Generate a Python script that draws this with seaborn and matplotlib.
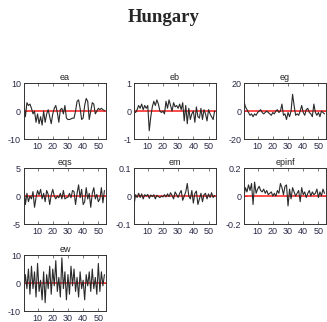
import numpy as np
import pandas as pd
import matplotlib
matplotlib.use("Agg")
import matplotlib.pyplot as plt
import seaborn as sns

sns.set_style("ticks")
plt.rcParams['font.family'] = ['Liberation Sans', 'DejaVu Sans']

title = "Hungary"
names = ["ea", "eb", "eg", "eqs", "em", "epinf", "ew"]
limits = [10, 1, 20, 5, 0.1, 0.2, 10]
xticks = [10, 20, 30, 40, 50]

ea = [2.5, -2, 3, 2, 2.5, 1, -1, 0, -4, -1, -4.5, -2, -5, 0, -4, -1, 0.5, -2, -4.5, -1,
      1, 2, -0.5, -4, 0.5, 1, -1, 2, -2.5, -3, -3, -2.8, -2.5, -2.5, 0, 3.5, 4, 1, -3, -2.5,
      2, 4.5, 3.5, -3, 0, 3, 2.5, -1, 0, 1, 0.5, 1, 0.5, 0.2]
eb = [0, -0.05, 0.05, 0.2, 0.1, 0.25, 0.05, 0.2, 0.1, 0.2, -0.7, -0.2, 0.15, 0.35, 0.2, 0.4,
      0.25, 0.0, -0.05, 0.0, -0.1, 0.35, 0.1, 0.4, 0.2, 0.0, 0.3, 0.15, 0.2, 0.1, 0.25, 0.05,
      0.3, -0.35, 0.2, -0.45, 0.1, -0.3, -0.1, 0.0, -0.4, 0.15, -0.2, -0.25, 0.1, -0.3, 0.05,
      -0.1, -0.35, 0.05, -0.1, -0.2, -0.3, 0.0]
eg = [7, 3, 1, -1, -3, -2, -4, -2, -3, -1, 0, 1, -1, -2, -1, 0, -1, -2, -3, -1, -2, 0, 1, -1,
      0, 5, -3, -2, -6, -1, -4, 0, 12, 4, -3, -2, -3, 0, 4, -1, -3, 1, 2, -1, -2, -4, 5, -1,
      -3, -1, -4, 0, -1, -2]
eqs = [1.6, -1.5, 0.5, -1, 0, -0.5, 0.8, -2, -0.3, 1, 0.2, 1.2, -0.5, 0.5, -1, 1, 0.3, -1.5,
       0.2, 1.2, 0, -0.5, 0, -0.3, 0.5, -0.5, 1, -0.5, -0.3, -0.2, 0.5, -0.3, 1, 0.8, -1.5, 0.5,
       2, -0.3, 1.2, -1.5, -1, 1.5, -0.5, 0.5, -2, 0.5, 1.5, -0.5, 0.3, -1, -0.5, 1.5, -1.2, 1]
em = [-0.03, 0.005, -0.005, 0.01, -0.005, 0.008, -0.01, 0.005, 0.0, 0.006, -0.008, 0.004,
      -0.002, 0.005, -0.01, 0.003, -0.002, -0.005, 0.0, -0.003, 0.005, -0.003, 0.008, -0.002,
      0.012, 0.002, -0.01, 0.015, 0.005, -0.005, 0.01, 0.02, -0.015, 0.0, 0.015, 0.045, 0.0,
      -0.01, 0.02, -0.025, 0.01, 0.018, -0.03, -0.01, 0.01, -0.02, 0.005, 0.01, -0.01, 0.008,
      -0.005, 0.012, -0.005, 0.002]
epinf = [0.0, 0.06, 0.03, 0.08, 0.04, 0.09, -0.06, 0.1, 0.02, 0.05, 0.07, 0.04, 0.03, 0.05,
         0.02, 0.04, 0.01, 0.02, 0.03, 0.0, 0.02, 0.0, 0.04, 0.02, 0.09, 0.06, 0.01, 0.07, 0.08,
         -0.07, 0.05, -0.02, 0.06, 0.03, 0.0, 0.02, 0.04, -0.04, 0.06, 0.01, 0.03, -0.01, 0.02,
         0.04, 0.0, 0.03, 0.01, 0.02, 0.05, -0.01, 0.03, 0.0, 0.05, 0.02]
ew = [-3, 3, -2, 5, -4, 6, -2, 4, -5, 7, -3, 1, -6, 4, -7, 3, -2, 6, -4, 5, -1, 8, -3, 2, -5,
      9, -2, 4, -6, 3, -4, 6, -1, 5, -3, 2, -5, 4, -2, 1, -6, 3, -1, 4, -3, 5, -2, 2, -4, 7,
      -3, 4, -1, 3]
series = [ea, eb, eg, eqs, em, epinf, ew]

fig = plt.figure(figsize=(3.27, 3.22), dpi=100)
fig.text(0.5, 0.945, title, ha='center', va='center', fontsize=13.5,
         fontweight='bold', family=['Liberation Serif'])

lefts = [0.073, 0.41, 0.746]
bottoms = [0.568, 0.304, 0.034]
w, h = 0.251, 0.174
tick_color = '#2a2a48'

for i, (name, lim, vals) in enumerate(zip(names, limits, series)):
    r, c = divmod(i, 3)
    ax = fig.add_axes([lefts[c], bottoms[r], w, h])
    df = pd.DataFrame({"t": np.arange(1, len(vals) + 1), "v": vals})
    ax.axhline(0, color='#ff1a1a', lw=1.1, zorder=1)
    sns.lineplot(data=df, x="t", y="v", ax=ax, color='#2a2a2a', lw=0.8, zorder=2)
    ax.set_xlim(1, 55)
    ax.set_ylim(-lim, lim)
    ax.set_xticks(xticks)
    ax.set_yticks([-lim, 0, lim])
    ax.set_yticklabels([f"{-lim:g}", "0", f"{lim:g}"])
    ax.set_xlabel("")
    ax.set_ylabel("")
    ax.set_title(name, fontsize=6.5, pad=2, color='#222222')
    ax.tick_params(direction='in', length=2, width=0.5, labelsize=6.5,
                   top=True, right=True, colors='#444444', labelcolor=tick_color, pad=2)
    for s in ax.spines.values():
        s.set_linewidth(0.7)
        s.set_color('#333333')

fig.savefig("out.png", dpi=100)
